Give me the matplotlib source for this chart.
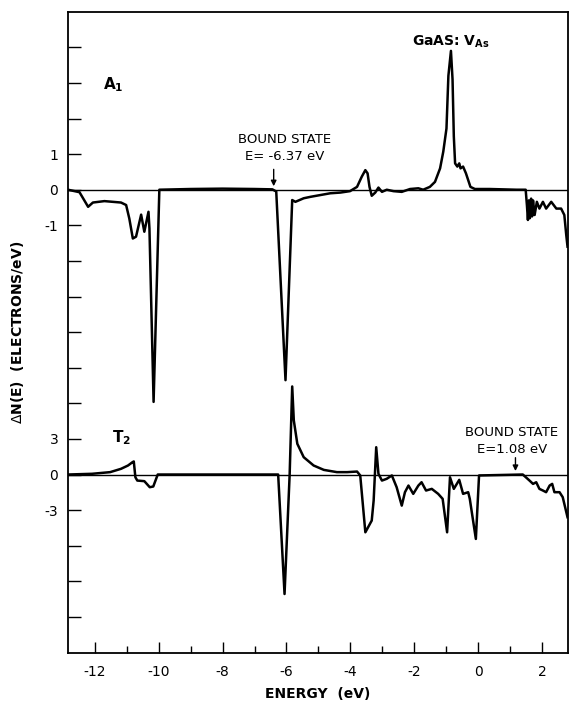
import matplotlib
matplotlib.use("Agg")
import matplotlib.pyplot as plt
import numpy as np

plt.rcParams['font.family'] = ['DejaVu Sans']

# A1 channel: change in density of states (electrons/eV)
a1_energy = [-12.84, -12.48, -12.21, -12.06, -11.70, -11.18, -11.02, -10.92, -10.81, -10.71,
             -10.55, -10.45, -10.32, -10.29, -10.16, -9.98, -9.0, -8.0, -7.0, -6.44,
             -6.32, -6.03, -5.82, -5.72, -5.46, -5.25, -4.94, -4.63, -4.31, -4.01,
             -3.79, -3.64, -3.53, -3.46, -3.40, -3.33, -3.22, -3.12, -3.01, -2.86,
             -2.65, -2.39, -2.13, -1.87, -1.72, -1.51, -1.35, -1.19, -1.09, -0.99,
             -0.93, -0.85, -0.80, -0.76, -0.72, -0.65, -0.59, -0.55, -0.47, -0.38,
             -0.31, -0.24, -0.10, 0.36, 1.20, 1.49, 1.53, 1.56, 1.59, 1.62, 1.66, 1.69,
             1.72, 1.77, 1.84, 1.92, 2.03, 2.13, 2.29, 2.45, 2.60, 2.70, 2.76, 2.80]
a1_dos = [0.0, -0.07, -0.48, -0.36, -0.32, -0.36, -0.43, -0.81, -1.37, -1.32,
          -0.70, -1.18, -0.62, -1.09, -5.96, 0.0, 0.02, 0.03, 0.02, 0.01,
          -0.05, -5.35, -0.29, -0.34, -0.24, -0.20, -0.15, -0.10, -0.08, -0.04,
          0.08, 0.37, 0.55, 0.46, 0.08, -0.17, -0.08, 0.06, -0.06, 0.0,
          -0.04, -0.06, 0.02, 0.04, 0.0, 0.08, 0.22, 0.60, 1.07, 1.72,
          3.20, 3.90, 3.10, 1.50, 0.74, 0.65, 0.74, 0.60, 0.65, 0.46,
          0.27, 0.08, 0.02, 0.02, 0.0, 0.0, -0.45, -0.85, -0.30, -0.80, -0.25, -0.75,
          -0.30, -0.71, -0.34, -0.53, -0.34, -0.53, -0.34, -0.53, -0.53, -0.71, -1.27, -1.6]

# T2 channel: change in density of states (electrons/eV)
t2_energy = [-12.84, -12.09, -11.52, -11.18, -10.96, -10.82, -10.78, -10.73, -10.67, -10.45,
             -10.28, -10.17, -10.03, -8.0, -6.26, -6.06, -5.90, -5.82, -5.77, -5.66,
             -5.46, -5.15, -4.83, -4.42, -4.10, -3.79, -3.69, -3.53, -3.33, -3.27,
             -3.19, -3.12, -3.01, -2.86, -2.70, -2.55, -2.39, -2.29, -2.18, -2.03,
             -1.87, -1.77, -1.63, -1.45, -1.25, -1.11, -0.97, -0.88, -0.76, -0.59,
             -0.47, -0.31, -0.26, -0.07, 0.03, 1.40, 1.61, 1.72, 1.82, 1.92,
             2.03, 2.13, 2.24, 2.32, 2.39, 2.55, 2.65, 2.80]
t2_dos = [0.0, 0.06, 0.20, 0.48, 0.76, 1.04, 1.10, -0.23, -0.51, -0.56,
          -1.07, -1.01, 0.0, 0.0, 0.0, -10.07, 0.0, 7.42, 4.56, 2.59,
          1.46, 0.76, 0.39, 0.20, 0.20, 0.25, -0.08, -4.87, -3.88, -2.19,
          2.30, 0.06, -0.51, -0.36, -0.08, -1.07, -2.62, -1.49, -0.93, -1.63,
          -0.93, -0.65, -1.35, -1.21, -1.63, -2.05, -4.87, -0.23, -1.21, -0.45,
          -1.63, -1.49, -2.05, -5.43, -0.08, 0.0, -0.51, -0.79, -0.65, -1.21,
          -1.35, -1.49, -0.93, -0.79, -1.49, -1.49, -1.91, -3.6]

x_ticks = [-12, -10, -8, -6, -4, -2, 0, 2]
x_ticklabels = ['-12', '-10', '-8', '-6', '-4', '-2', '0', '2']
a1_ticklabels = {1: '1', 0: '0', -1: '-1'}
t2_ticklabels = {3: '3', 0: '0', -3: '-3'}

# layout of the stacked panels on one axis (tick units)
t2_offset = -8.0
t2_scale = 3.0

fig = plt.figure(figsize=(5.69, 7.02), dpi=100)
ax = fig.add_axes([0.1195, 0.0705, 0.9974 - 0.1195, 0.9833 - 0.0705])
ax.set_xlim(-12.84, 2.8)
ax.set_ylim(-13, 5)

ax.axhline(0, color='black', lw=1.0, zorder=1)
ax.axhline(t2_offset, color='black', lw=1.0, zorder=1)

ax.plot(a1_energy, a1_dos, color='black', lw=1.8, zorder=2)
ax.plot(t2_energy, np.array(t2_dos) / t2_scale + t2_offset, color='black', lw=1.8, zorder=2)

# ticks
yt = list(range(-12, 5))
ax.set_yticks(yt)
labels = []
for t in yt:
    if t in a1_ticklabels and t > -4:
        labels.append(a1_ticklabels[t])
    elif abs(t - t2_offset) < 2:
        v = int(round((t - t2_offset) * t2_scale))
        labels.append(t2_ticklabels.get(v, ''))
    else:
        labels.append('')
ax.set_yticklabels(labels, fontsize=10)
ax.set_xticks(x_ticks)
ax.set_xticklabels(x_ticklabels, fontsize=10)
ax.set_xticks([-11, -9, -7, -5, -3, -1, 1], minor=True)
ax.tick_params(axis='y', direction='in', length=9, width=1.0, pad=7, right=False)
ax.tick_params(axis='x', which='major', direction='in', length=8, width=1.0, pad=9, top=False)
ax.tick_params(axis='x', which='minor', direction='in', length=5, width=1.0, top=False)
for s in ax.spines.values():
    s.set_linewidth(1.3)

ax.set_xlabel('ENERGY  (eV)', fontsize=10, fontweight='bold', labelpad=6)
ax.set_ylabel(r'$\Delta$N(E)  (ELECTRONS/eV)', fontsize=10, fontweight='bold')
ax.yaxis.set_label_coords(-0.085, 0.5)

# annotations
ax.text(-11.75, 2.95, r'A$_\mathbf{1}$', fontsize=11, fontweight='bold', va='center', ha='left')
ax.text(-11.45, -6.97, r'T$_\mathbf{2}$', fontsize=11, fontweight='bold', va='center', ha='left')
ax.text(-0.85, 4.16, r'GaAS: V$_\mathbf{As}$', fontsize=10, fontweight='bold', va='center', ha='center')

ax.text(-6.05, 1.40, 'BOUND STATE', fontsize=9.5, ha='center', va='center')
ax.text(-6.05, 0.93, 'E= -6.37 eV', fontsize=9.5, ha='center', va='center')
ax.annotate('', xy=(-6.40, 0.02), xytext=(-6.40, 0.65),
            arrowprops=dict(arrowstyle='-|>', color='black', lw=1.0, mutation_scale=8))

ax.text(1.05, -6.83, 'BOUND STATE', fontsize=9.5, ha='center', va='center')
ax.text(1.05, -7.30, 'E=1.08 eV', fontsize=9.5, ha='center', va='center')
ax.annotate('', xy=(1.17, -7.98), xytext=(1.17, -7.45),
            arrowprops=dict(arrowstyle='-|>', color='black', lw=1.0, mutation_scale=8))

fig.savefig('out.png', dpi=100)
